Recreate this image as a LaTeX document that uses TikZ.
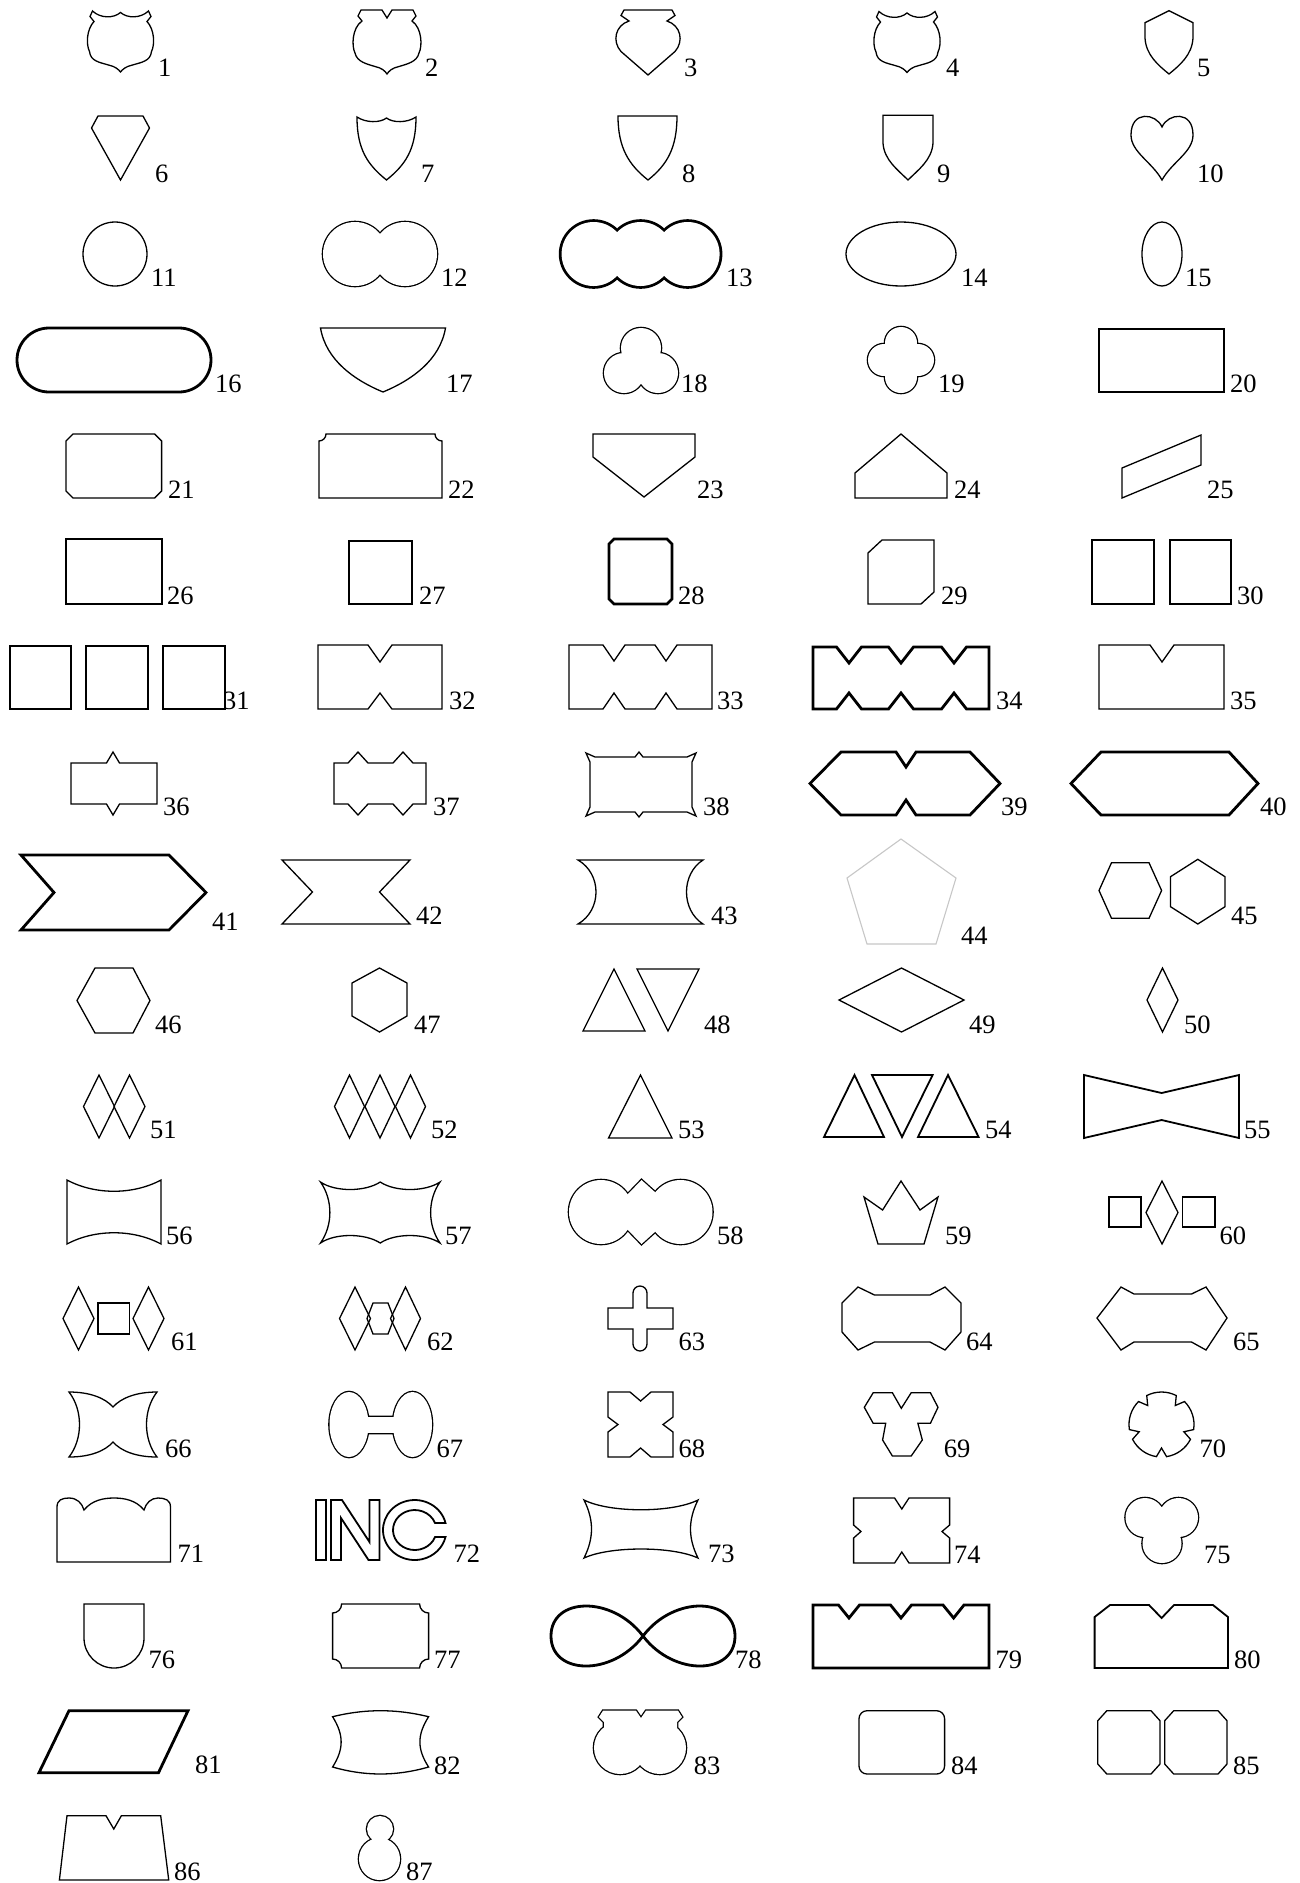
\documentclass[tikz,border=0pt]{standalone}
\usepackage{fontspec}
\setmainfont{Liberation Serif}
\newcommand{\dmdraw}[5][sh]{\draw[#1] (#2-#4,#3) -- (#2,#3-#5) -- (#2+#4,#3) -- (#2,#3+#5) -- cycle;}
\newcommand{\shieldA}[2]{\begin{scope}[shift={(#1,#2)}]
\draw[sh] (-28,-30.5) .. controls (-20,-23) and (-7,-23) .. (0,-29) .. controls (7,-23) and (20,-23) .. (28,-30.5) -- (30.5,-25) -- (26.5,-20) .. controls (34,-12) and (34.5,3) .. (31,10) .. controls (30,20) and (20,21) .. (12,23.5) .. controls (5,25) and (2,28) .. (0,30.5) .. controls (-2,28) and (-5,25) .. (-12,23.5) .. controls (-20,21) and (-30,20) .. (-31,10) .. controls (-34.5,3) and (-34,-12) .. (-26.5,-20) -- (-30.5,-25) -- cycle;
\end{scope}}
\begin{document}
\begin{tikzpicture}[x=1pt,y=-1pt,
  sh/.style={draw=black, line width=1.3pt, line join=miter},
  md/.style={draw=black, line width=1.8pt, line join=miter},
  tk/.style={draw=black, line width=2.8pt, line join=miter},
  ush/.style={draw=black, line width=2.6pt},
  utk/.style={draw=black, line width=5.6pt},
  lab/.style={anchor=base west, inner sep=0pt, font=\fontsize{26.5}{30}\selectfont}]
\fill[white] (0,0) rectangle (1300,1883);
\useasboundingbox (0,0) rectangle (1300,1883);

% ---------- row 1
\shieldA{120.5}{41.5}
\begin{scope}[shift={(387,42)}]
\draw[sh] (-26,-32) -- (-5,-32) -- (0,-24) -- (5,-32) -- (26,-32) -- (29,-26) -- (25,-21) .. controls (35,-14) and (35.5,4) .. (32,11) .. controls (30,20) and (20,22) .. (12,24.5) .. controls (5,26) and (2,29) .. (0,32) .. controls (-2,29) and (-5,26) .. (-12,24.5) .. controls (-20,22) and (-30,20) .. (-32,11) .. controls (-35.5,4) and (-35,-14) .. (-25,-21) -- (-29,-26) -- cycle;
\end{scope}
\begin{scope}[shift={(648,42.5)}]
\draw[sh] (-24,-32.5) -- (24,-32.5) -- (27,-27) -- (19,-21.5) .. controls (33,-17) and (36,-1) .. (27,9) -- (0,32.5) -- (-27,9) .. controls (-36,-1) and (-33,-17) .. (-19,-21.5) -- (-27,-27) -- cycle;
\end{scope}
\shieldA{907}{42}
\draw[sh] (1169,10.7) -- (1193,22.7) -- (1193,38) .. controls (1192,55) and (1180,65) .. (1169,74) .. controls (1158,65) and (1146,55) .. (1145,38) -- (1145,22.7) -- cycle;
\node[lab] (l1) at (158,76) {1};
\node[lab] (l2) at (425,76) {2};
\node[lab] (l3) at (684,76) {3};
\node[lab] (l4) at (946,76) {4};
\node[lab] (l5) at (1197,76) {5};

% ---------- row 2
\draw[sh] (98,116) -- (143,116) -- (149.5,128) -- (120.5,180) -- (91.5,128) -- cycle;
\draw[sh] (357,117) .. controls (366,123) and (380,123) .. (386.5,118) .. controls (393,123) and (407,123) .. (416,117) .. controls (416,150) and (405,165) .. (386.5,180) .. controls (368,165) and (357,150) .. cycle;
\draw[sh] (618,116) -- (677,116) .. controls (677,148) and (667,165) .. (648,180) .. controls (629,165) and (618,148) .. cycle;
\draw[sh] (883,115.3) -- (933,115.3) -- (933,143) .. controls (932,160) and (918,170) .. (908,180) .. controls (898,170) and (884,160) .. (883,143) -- cycle;
\draw[sh] (1162,127) .. controls (1168,113) and (1193,110) .. (1193,135) .. controls (1193,152) and (1172,162) .. (1162,180) .. controls (1152,162) and (1131,152) .. (1131,135) .. controls (1131,110) and (1156,113) .. cycle;
\node[lab] (l6) at (155,182) {6};
\node[lab] (l7) at (421,182) {7};
\node[lab] (l8) at (682,182) {8};
\node[lab] (l9) at (937,182) {9};
\node[lab] (l10) at (1197,182) {10};

% ---------- row 3
\draw[sh] (115,254) circle[radius=32];
\draw[ush] (355,254) circle[radius=32] (405,254) circle[radius=32];
\fill[white] (355,254) circle[radius=32] (405,254) circle[radius=32];
\draw[utk] (593.6,254) circle[radius=32] (640.6,254) circle[radius=32] (687.6,254) circle[radius=32];
\fill[white] (593.6,254) circle[radius=32] (640.6,254) circle[radius=32] (687.6,254) circle[radius=32];
\draw[sh] (901,254) ellipse[x radius=55, y radius=32];
\draw[sh] (1162,254) ellipse[x radius=20, y radius=32];
\node[lab] (l11) at (151,286) {11};
\node[lab] (l12) at (441,286) {12};
\node[lab] (l13) at (726,286) {13};
\node[lab] (l14) at (961,286) {14};
\node[lab] (l15) at (1185,286) {15};

% ---------- row 4
\draw[tk, rounded corners=32pt] (17,328) rectangle (211,392);
\draw[sh] (320.5,328) -- (445.5,328) .. controls (440,360) and (412,380) .. (383,392) .. controls (354,380) and (326,360) .. cycle;
\draw[ush] (641,348) circle[radius=20] (624,373) circle[radius=20] (658,373) circle[radius=20];
\fill[white] (641,348) circle[radius=20] (624,373) circle[radius=20] (658,373) circle[radius=20];
\fill[white] (641,364) circle[radius=8];
\draw[ush] (901,343) circle[radius=16] (901,377) circle[radius=16] (884,360) circle[radius=16] (918,360) circle[radius=16];
\fill[white] (901,343) circle[radius=16] (901,377) circle[radius=16] (884,360) circle[radius=16] (918,360) circle[radius=16];
\fill[white] (901,360) circle[radius=8];
\draw[tk] (1099,329) rectangle (1224,392);
\node[lab] (l16) at (215,392) {16};
\node[lab] (l17) at (446,392) {17};
\node[lab] (l18) at (681,392) {18};
\node[lab] (l19) at (938,392) {19};
\node[lab] (l20) at (1230,392) {20};

% ---------- row 5
\draw[sh] (73,434) -- (154.6,434) -- (161.6,441) -- (161.6,491) -- (154.6,498) -- (73,498) -- (66,491) -- (66,441) -- cycle;
\draw[sh] (326,434) -- (435,434) arc[start angle=180, end angle=90, radius=7] -- (442,498) -- (319,498) -- (319,441) arc[start angle=90, end angle=0, radius=7] -- cycle;
\draw[sh] (593,434) -- (695,434) -- (695,457) -- (644,497) -- (593,457) -- cycle;
\draw[sh] (855,498) -- (855,473) -- (901,434) -- (947,473) -- (947,498) -- cycle;
\draw[sh] (1122,468) -- (1201,435) -- (1201,465) -- (1122,498) -- cycle;
\node[lab] (l21) at (168,498) {21};
\node[lab] (l22) at (448,498) {22};
\node[lab] (l23) at (697,498) {23};
\node[lab] (l24) at (954,498) {24};
\node[lab] (l25) at (1207,498) {25};

% ---------- row 6
\draw[sh] (66,539) rectangle (162,604);
\draw[tk] (349,541) rectangle (412,604);
\draw[tk] (614,539) -- (667,539) -- (672,544) -- (672,599) -- (667,604) -- (614,604) -- (609,599) -- (609,544) -- cycle;
\draw[sh] (882,540) -- (934,540) -- (934,592) -- (921,604) -- (868,604) -- (868,553) -- cycle;
\draw[sh] (1092,540) rectangle (1154,604);
\draw[sh] (1170,540) rectangle (1231,604);
\node[lab] (l26) at (167,604) {26};
\node[lab] (l27) at (419,604) {27};
\node[lab] (l28) at (678,604) {28};
\node[lab] (l29) at (941,604) {29};
\node[lab] (l30) at (1237,604) {30};

% ---------- row 7
\draw[tk] (10,646) rectangle (71,709);
\draw[tk] (86,646) rectangle (148,709);
\draw[tk] (163,646) rectangle (225,709);
\draw[sh] (318,645) -- (368,645) -- (380,662) -- (392,645) -- (442,645) -- (442,709) -- (392,709) -- (380,693) -- (368,709) -- (318,709) -- cycle;
\draw[sh] (569,645) -- (603,645) -- (614,661) -- (625,645) -- (655,645) -- (666,661) -- (677,645) -- (712,645) -- (712,709) -- (677,709) -- (666,693) -- (655,709) -- (625,709) -- (614,693) -- (603,709) -- (569,709) -- cycle;
\draw[tk] (813,647) -- (836.5,647) -- (849,663) -- (861.5,647) -- (888.5,647) -- (901,663) -- (913.5,647) -- (941.5,647) -- (954,663) -- (966.5,647) -- (989,647) -- (989,709) -- (966.5,709) -- (954,693) -- (941.5,709) -- (913.5,709) -- (901,693) -- (888.5,709) -- (861.5,709) -- (849,693) -- (836.5,709) -- (813,709) -- cycle;
\draw[sh] (1099,645) -- (1150,645) -- (1162,662) -- (1174,645) -- (1224,645) -- (1224,709) -- (1099,709) -- cycle;
\node[lab] (l31) at (223,709) {31};
\node[lab] (l32) at (449,709) {32};
\node[lab] (l33) at (717,709) {33};
\node[lab] (l34) at (996,709) {34};
\node[lab] (l35) at (1230,709) {35};

% ---------- row 8
\draw[sh] (71,763) -- (106.5,763) -- (113,752) -- (119.5,763) -- (157,763) -- (157,804) -- (119.5,804) -- (113,815) -- (106.5,804) -- (71,804) -- cycle;
\draw[sh] (334,763) -- (348,763) -- (358,752) -- (368,763) -- (393,763) -- (403,752) -- (413,763) -- (426,763) -- (426,804) -- (413,804) -- (403,815) -- (393,804) -- (368,804) -- (358,815) -- (348,804) -- (334,804) -- cycle;
\draw[sh] (595,757) -- (635,757) -- (639,752) -- (643,757) -- (687,757) -- (696,753) -- (692,762) -- (692,807) -- (696,816) -- (687,812) -- (643,812) -- (639,817) -- (635,812) -- (595,812) -- (586,816) -- (590,807) -- (590,762) -- (586,753) -- cycle;
\draw[tk] (841,752) -- (896,752) -- (906,767) -- (916,752) -- (970,752) -- (1000,783.5) -- (970,815) -- (916,815) -- (906,800) -- (896,815) -- (841,815) -- (810,783.5) -- cycle;
\draw[tk] (1101,752) -- (1229,752) -- (1258,783.5) -- (1229,815) -- (1101,815) -- (1071,783.5) -- cycle;
\node[lab] (l36) at (163,815) {36};
\node[lab] (l37) at (433,815) {37};
\node[lab] (l38) at (703,815) {38};
\node[lab] (l39) at (1001,815) {39};
\node[lab] (l40) at (1260,815) {40};

% ---------- row 9
\draw[tk] (21,855) -- (169,855) -- (206,892.5) -- (169,930) -- (21,930) -- (54,892.5) -- cycle;
\draw[sh] (282,860) -- (410,860) -- (379.5,892) -- (410,924) -- (282,924) -- (312.5,892) -- cycle;
\draw[sh] (578,860) -- (703,860) .. controls (681,874) and (681,910) .. (703,924) -- (578,924) .. controls (602,910) and (602,874) .. cycle;
\draw[draw=black!22, line width=1.1pt] (901,839) -- (956,878) -- (936,944) -- (867,944) -- (847,878) -- cycle;
\draw[sh] (1099,890.5) -- (1111.5,862.7) -- (1149,862.7) -- (1161.6,890.5) -- (1149,918.3) -- (1111.5,918.3) -- cycle;
\draw[sh] (1197.8,859.3) -- (1225,876.7) -- (1225,906.7) -- (1197.8,924) -- (1170.5,906.7) -- (1170.5,876.7) -- cycle;
\node[lab] (l41) at (212,930) {41};
\node[lab] (l42) at (416,924) {42};
\node[lab] (l43) at (711,924) {43};
\node[lab] (l44) at (961,944) {44};
\node[lab] (l45) at (1231,924) {45};

% ---------- row 10
\draw[sh] (77,1000.5) -- (95,968) -- (133,968) -- (150,1000.5) -- (133,1033) -- (95,1033) -- cycle;
\draw[sh] (379.5,968) -- (407,983) -- (407,1016) -- (379.5,1032) -- (352,1016) -- (352,983) -- cycle;
\draw[sh] (583,1031) -- (614,969) -- (645,1031) -- cycle;
\draw[sh] (637,969) -- (699,969) -- (668,1031) -- cycle;
\dmdraw{901.5}{1000}{62.5}{32}
\dmdraw{1162.5}{1000}{15.5}{32}
\node[lab] (l46) at (155,1033) {46};
\node[lab] (l47) at (414,1033) {47};
\node[lab] (l48) at (704,1033) {48};
\node[lab] (l49) at (969,1033) {49};
\node[lab] (l50) at (1184,1033) {50};

% ---------- row 11
\dmdraw{99}{1106.5}{15.5}{31.5}
\dmdraw{129.5}{1106.5}{15.5}{31.5}
\dmdraw{349.5}{1106.5}{15}{31.5}
\dmdraw{380}{1106.5}{15}{31.5}
\dmdraw{410.5}{1106.5}{15}{31.5}
\draw[sh] (608.5,1138) -- (640.5,1075) -- (672,1138) -- cycle;
\draw[md] (824,1137) -- (854.5,1075) -- (884,1137) -- cycle;
\draw[md] (872,1075) -- (932.6,1075) -- (902,1137) -- cycle;
\draw[md] (918,1137) -- (948,1075) -- (978.6,1137) -- cycle;
\draw[md] (1084,1075) -- (1161.6,1093) -- (1239,1075) -- (1239,1138) -- (1161.6,1120) -- (1084,1138) -- cycle;
\node[lab] (l51) at (150,1138) {51};
\node[lab] (l52) at (431,1138) {52};
\node[lab] (l53) at (678,1138) {53};
\node[lab] (l54) at (985,1138) {54};
\node[lab] (l55) at (1244,1138) {55};

% ---------- row 12
\draw[sh] (67,1180) .. controls (95,1195) and (133,1195) .. (161,1180) -- (161,1244) .. controls (133,1229) and (95,1229) .. (67,1244) -- cycle;
\draw[sh] (320.5,1182) .. controls (335,1192) and (365,1192) .. (380.25,1182) .. controls (395,1192) and (425,1192) .. (440,1182) .. controls (427.5,1200) and (427.5,1225) .. (440,1243) .. controls (425,1233) and (395,1233) .. (380.25,1243) .. controls (365,1233) and (335,1233) .. (320.5,1243) .. controls (333,1225) and (333,1200) .. cycle;
\draw[ush] (601,1212) circle[radius=32] (680.5,1212) circle[radius=32] (627,1195) -- (641.5,1180) -- (656,1193) -- (656,1231) -- (641.5,1244) -- (627,1229) -- cycle;
\fill[white] (601,1212) circle[radius=32];
\fill[white] (680.5,1212) circle[radius=32];
\fill[white] (627,1195) -- (641.5,1180) -- (656,1193) -- (656,1231) -- (641.5,1244) -- (627,1229) -- cycle;
\draw[sh] (878,1244) -- (864,1197) -- (882.6,1210) -- (901,1181) -- (920,1210) -- (938,1197) -- (924,1244) -- cycle;
\draw[sh] (1109,1197) rectangle (1141,1227);
\dmdraw{1162}{1212.5}{16}{31.5}
\draw[sh] (1182.6,1197) rectangle (1215,1227);
\node[lab] (l56) at (166,1244) {56};
\node[lab] (l57) at (445,1244) {57};
\node[lab] (l58) at (717,1244) {58};
\node[lab] (l59) at (945,1244) {59};
\node[lab] (l60) at (1219.5,1244) {60};

% ---------- row 13
\dmdraw{78.5}{1318.5}{15.5}{31.5}
\draw[sh] (98,1303) rectangle (129.5,1334);
\dmdraw{148.5}{1318.5}{15.5}{31.5}
\dmdraw{355}{1318.5}{15.5}{31.5}
\dmdraw{405.5}{1318.5}{15}{31.5}
\draw[sh] (373,1303) -- (388,1303) -- (394,1318.5) -- (388,1334) -- (373,1334) -- (367,1318.5) -- cycle;
\draw[sh] (633,1308) -- (633,1293) arc[start angle=180, end angle=360, radius=7] -- (647,1308) -- (673,1308) -- (673,1329) -- (647,1329) -- (647,1344) arc[start angle=0, end angle=180, radius=7] -- (633,1329) -- (608,1329) -- (608,1308) -- cycle;
\draw[sh] (842,1303) -- (858,1287) -- (874.5,1295) -- (930,1295) -- (945,1287) -- (961,1303) -- (961,1332) -- (945,1350) -- (930,1342) -- (874.5,1342) -- (858,1350) -- (842,1332) -- cycle;
\draw[sh] (1097,1318) -- (1121,1287) -- (1134,1294) -- (1191.5,1294) -- (1206,1287) -- (1227,1318) -- (1206,1350) -- (1191.5,1342) -- (1134,1342) -- (1121,1350) -- cycle;
\node[lab] (l61) at (171,1350) {61};
\node[lab] (l62) at (427,1350) {62};
\node[lab] (l63) at (678.5,1350) {63};
\node[lab] (l64) at (966,1350) {64};
\node[lab] (l65) at (1233,1350) {65};

% ---------- row 14
\draw[sh] (69,1392) .. controls (90,1392) and (105,1398) .. (113,1407) .. controls (121,1398) and (136,1392) .. (157,1392) .. controls (143,1410) and (143,1439) .. (157,1457) .. controls (136,1457) and (121,1451) .. (113,1442) .. controls (105,1451) and (90,1457) .. (69,1457) .. controls (83,1439) and (83,1410) .. cycle;
\draw[ush] (349,1424.5) ellipse[x radius=19.5, y radius=32.5] (412.5,1424.5) ellipse[x radius=19.5, y radius=32.5] (360,1417) rectangle (402,1433);
\fill[white] (349,1424.5) ellipse[x radius=19.5, y radius=32.5];
\fill[white] (412.5,1424.5) ellipse[x radius=19.5, y radius=32.5];
\fill[white] (360,1417) rectangle (402,1433);
\draw[sh] (608,1392) -- (630,1392) -- (640.6,1401) -- (651,1392) -- (673,1392) -- (673,1417) -- (663,1424.5) -- (673,1432) -- (673,1457) -- (651,1457) -- (640.6,1448) -- (630,1457) -- (608,1457) -- (608,1432) -- (618,1424.5) -- (608,1417) -- cycle;
\draw[sh] (873.2,1392.7) -- (892.4,1392.7) -- (901.3,1408.3) -- (911.2,1392.7) -- (930.4,1392.7) -- (938,1407.3) -- (930.4,1423.3) -- (917.9,1423.3) -- (922.3,1440) -- (911.2,1456) -- (892.4,1456) -- (882.6,1440) -- (885.7,1423.3) -- (873.2,1423.3) -- (864.3,1407.3) -- cycle;
\draw[sh] ([shift={(1161.5,1424.5)}] 81:32.5) \foreach \a in {90,162,234,306,378} { -- ([shift={(1161.5,1424.5)}] \a:23.5) -- ([shift={(1161.5,1424.5)}] {\a+9}:32.5) arc[start angle=\a+9, end angle=\a+63, radius=32.5] } -- cycle;
\node[lab] (l66) at (165,1457) {66};
\node[lab] (l67) at (436.5,1457) {67};
\node[lab] (l68) at (678.5,1457) {68};
\node[lab] (l69) at (943.6,1457) {69};
\node[lab] (l70) at (1199.5,1457) {70};

% ---------- row 15
\draw[sh] (57,1562) -- (57,1507) .. controls (57,1500) and (62,1498) .. (69,1498) .. controls (77,1498) and (82,1503) .. (84,1510) .. controls (92,1500) and (104,1498) .. (114,1498) .. controls (124,1498) and (136,1500) .. (144,1510) .. controls (146,1503) and (151,1498) .. (158,1498) .. controls (165,1498) and (170.5,1500) .. (170.5,1507) -- (170.5,1562) -- cycle;
\draw[md] (316,1500) rectangle (326,1560);
\draw[md] (331,1500) -- (342,1500) -- (369.5,1542) -- (369.5,1500) -- (379.5,1500) -- (379.5,1560) -- (368.5,1560) -- (341,1518) -- (341,1560) -- (331,1560) -- cycle;
\draw[md] ([shift={(414.7,1530)}] -13.5:31.7 and 30) arc[start angle=-13.5, end angle=-346.5, x radius=31.7, y radius=30] -- ([shift={(414.7,1530)}] 20.5:21.7 and 20) arc[start angle=20.5, end angle=339.5, x radius=21.7, y radius=20] -- cycle;
\draw[sh] (584,1500) .. controls (610,1513) and (672,1513) .. (698,1500) .. controls (688,1520) and (688,1538) .. (698,1558) .. controls (672,1546) and (610,1546) .. (584,1558) .. controls (594,1538) and (594,1520) .. cycle;
\draw[sh] (853.6,1498) -- (894.6,1498) -- (901.8,1509) -- (909,1498) -- (949.6,1498) -- (949.6,1525) -- (942,1531.5) -- (949.6,1538) -- (949.6,1563) -- (909,1563) -- (901.8,1552) -- (894.6,1563) -- (853.6,1563) -- (853.6,1538) -- (861,1531.5) -- (853.6,1525) -- cycle;
\draw[ush] (1145,1517.5) circle[radius=19.5] (1178.5,1517.5) circle[radius=19.5] (1162,1543.5) circle[radius=19.5];
\fill[white] (1145,1517.5) circle[radius=19.5] (1178.5,1517.5) circle[radius=19.5] (1162,1543.5) circle[radius=19.5];
\node[lab] (l71) at (177.5,1562) {71};
\node[lab] (l72) at (453.5,1562) {72};
\node[lab] (l73) at (708,1562) {73};
\node[lab] (l74) at (954,1563) {74};
\node[lab] (l75) at (1204,1563) {75};

% ---------- row 16
\draw[sh] (84,1604) -- (144,1604) -- (144,1638) arc[start angle=0, end angle=180, radius=30] -- cycle;
\draw[sh] (341.6,1604) -- (419.6,1604) arc[start angle=180, end angle=90, radius=9] -- (428.6,1659) arc[start angle=270, end angle=180, radius=9] -- (341.6,1668) arc[start angle=0, end angle=-90, radius=9] -- (332.6,1613) arc[start angle=90, end angle=0, radius=9] -- cycle;
\draw[tk] (643,1636) .. controls (612,1595) and (551,1597) .. (551,1636) .. controls (551,1675) and (612,1677) .. (643,1636) .. controls (674,1595) and (735,1597) .. (735,1636) .. controls (735,1675) and (674,1677) .. cycle;
\draw[tk] (813,1605) -- (838.5,1605) -- (849,1618) -- (859.5,1605) -- (890.5,1605) -- (901,1618) -- (911.5,1605) -- (943,1605) -- (953.6,1618) -- (964,1605) -- (989,1605) -- (989,1668) -- (813,1668) -- cycle;
\draw[md] (1094.6,1617) -- (1110,1605) -- (1149,1605) -- (1161.6,1618) -- (1174,1605) -- (1213,1605) -- (1228,1617) -- (1228,1668) -- (1094.6,1668) -- cycle;
\node[lab] (l76) at (148.5,1668) {76};
\node[lab] (l77) at (434,1668) {77};
\node[lab] (l78) at (735,1668) {78};
\node[lab] (l79) at (995.4,1668) {79};
\node[lab] (l80) at (1234,1668) {80};

% ---------- row 17
\draw[tk] (69,1710.7) -- (188,1710.7) -- (158.5,1772.7) -- (39,1772.7) -- cycle;
\draw[sh] (332.6,1716.7) .. controls (365,1708.7) and (396,1708.7) .. (428.6,1716.7) .. controls (417,1735) and (417,1749) .. (428.6,1767) .. controls (396,1776.3) and (365,1776.3) .. (332.6,1767) .. controls (344,1749) and (344,1735) .. cycle;
\draw[ush] (620.2,1747.8) circle[radius=26.2] (659.8,1747.8) circle[radius=26.2] (603,1710.7) -- (636,1710.7) -- (641,1718) -- (646,1710.7) -- (678,1710.7) -- (682,1717) -- (677,1722) -- (677,1738) -- (604,1738) -- (604,1722) -- (599,1717) -- cycle;
\fill[white] (620.2,1747.8) circle[radius=26.2];
\fill[white] (659.8,1747.8) circle[radius=26.2];
\fill[white] (603,1710.7) -- (636,1710.7) -- (641,1718) -- (646,1710.7) -- (678,1710.7) -- (682,1717) -- (677,1722) -- (677,1738) -- (604,1738) -- (604,1722) -- (599,1717) -- cycle;
\draw[sh, rounded corners=8pt] (859,1710.7) rectangle (944.6,1774);
\draw[sh] (1106.8,1710.7) -- (1151,1710.7) -- (1160,1720.7) -- (1160,1764) -- (1151,1774) -- (1106.8,1774) -- (1097.8,1764) -- (1097.8,1720.7) -- cycle;
\draw[sh] (1173.7,1710.7) -- (1218,1710.7) -- (1227,1720.7) -- (1227,1764) -- (1218,1774) -- (1173.7,1774) -- (1164.7,1764) -- (1164.7,1720.7) -- cycle;
\node[lab] (l81) at (195,1773) {81};
\node[lab] (l82) at (434,1774) {82};
\node[lab] (l83) at (693.6,1774) {83};
\node[lab] (l84) at (950.8,1774) {84};
\node[lab] (l85) at (1233,1774) {85};

% ---------- row 18
\draw[sh] (67,1815.7) -- (106,1815.7) -- (113.8,1829) -- (121.4,1815.7) -- (160.7,1815.7) -- (168.75,1880) -- (59.4,1880) -- cycle;
\draw[ush] (380,1829) ellipse[x radius=13, y radius=13] (379.5,1859) ellipse[x radius=20.5, y radius=21];
\fill[white] (380,1829) ellipse[x radius=13, y radius=13] (379.5,1859) ellipse[x radius=20.5, y radius=21];
\node[lab] (l86) at (174,1880) {86};
\node[lab] (l87) at (406,1880) {87};
\end{tikzpicture}
\end{document}
